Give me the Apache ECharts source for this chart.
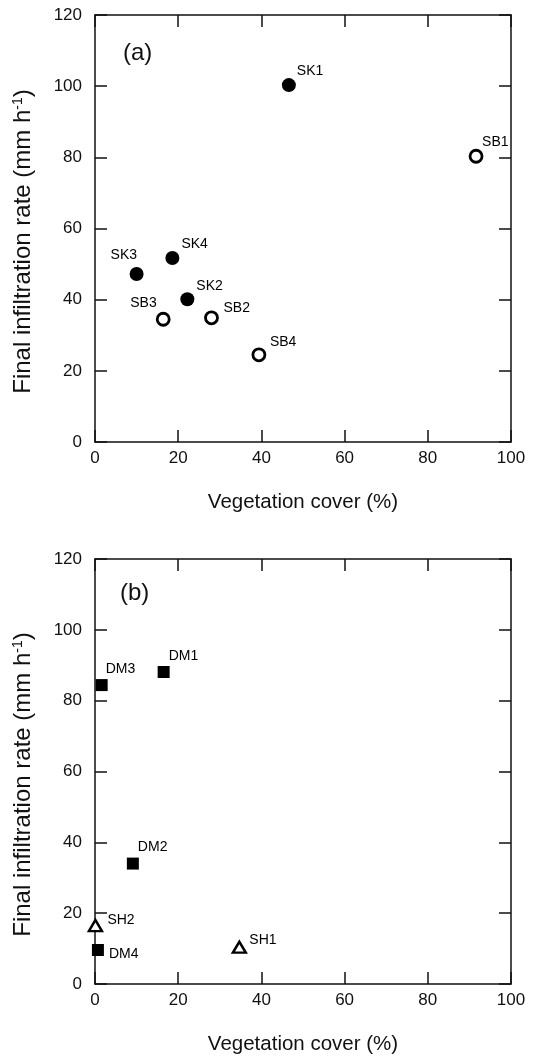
<!DOCTYPE html>
<html>
<head>
<meta charset="utf-8">
<script src="https://cdn.jsdelivr.net/npm/echarts@6/dist/echarts.min.js"></script>
<style>
  html, body { margin: 0; padding: 0; background: #fff; }
  #chart { width: 538px; height: 1057px; }
</style>
</head>
<body>
<div id="chart"></div>
<script>
// panel (a): sites with closed (SK) and open (SB) circles
var skNames = ['SK1', 'SK2', 'SK3', 'SK4'];
var skCover = [46.6, 22.2, 10.0, 18.6];
var skRate = [100.3, 40.1, 47.2, 51.7];

var sbNames = ['SB1', 'SB2', 'SB3', 'SB4'];
var sbCover = [91.6, 28.0, 16.4, 39.4];
var sbRate = [80.3, 34.9, 34.5, 24.5];

// panel (b): squares (DM) and open triangles (SH)
var dmNames = ['DM1', 'DM2', 'DM3', 'DM4'];
var dmCover = [16.5, 9.1, 1.6, 0.7];
var dmRate = [88.1, 34.0, 84.4, 9.6];

var shNames = ['SH1', 'SH2'];
var shCover = [34.7, 0.1];
var shRate = [10.4, 16.5];

var xTicks = [0, 20, 40, 60, 80, 100];
var yTicks = [0, 20, 40, 60, 80, 100, 120];

// label offsets (left edge / vertical centre relative to the marker)
var labelOffset = {
    SK1: [8, -14], SK2: [9, -13], SK3: [-26, -19], SK4: [9, -14],
    SB1: [6, -14], SB2: [12, -10], SB3: [-33, -16], SB4: [11, -13],
    DM1: [5, -16], DM2: [5, -16], DM3: [4, -16], DM4: [11, 4],
    SH1: [10, -7], SH2: [12, -5]
};

var font = 'Liberation Sans, Arial, Helvetica, sans-serif';

function points(names, xs, ys) {
    return names.map(function (n, i) {
        return {
            name: n,
            value: [xs[i], ys[i]],
            label: { offset: labelOffset[n] }
        };
    });
}

function pointLabel() {
    return {
        show: true,
        position: 'inside',
        align: 'left',
        verticalAlign: 'middle',
        formatter: '{b}',
        color: '#000',
        fontFamily: font,
        fontSize: 14
    };
}

var grids = [
    { left: 95, top: 15, width: 416, height: 427 },
    { left: 95, top: 559, width: 416, height: 425 }
];

function xAxes(gi) {
    var base = {
        gridIndex: gi, type: 'value', min: 0, max: 100, interval: 20,
        splitLine: { show: false },
        axisLine: { show: true, onZero: false, lineStyle: { color: '#111', width: 1.5 } },
        axisTick: { show: true, inside: true, length: 12, lineStyle: { color: '#111', width: 1.5 } }
    };
    return [
        Object.assign({}, base, {
            position: 'bottom',
            name: 'Vegetation cover (%)',
            nameLocation: 'middle',
            nameGap: 50,
            nameTextStyle: { fontFamily: font, fontSize: 20.5, color: '#111' },
            axisLabel: {
                margin: 8, fontFamily: font, fontSize: 17, color: '#111',
                formatter: function (v) { return xTicks.indexOf(v) >= 0 ? String(v) : ''; }
            }
        }),
        Object.assign({}, base, { position: 'top', axisLabel: { show: false } })
    ];
}

function yAxes(gi) {
    var base = {
        gridIndex: gi, type: 'value', min: 0, max: 120, interval: 20,
        splitLine: { show: false },
        axisLine: { show: true, onZero: false, lineStyle: { color: '#111', width: 1.5 } },
        axisTick: { show: true, inside: true, length: 12, lineStyle: { color: '#111', width: 1.5 } }
    };
    return [
        Object.assign({}, base, {
            position: 'left',
            name: 'Final infiltration rate (mm h{sup|-1})',
            nameLocation: 'middle',
            nameGap: 60,
            nameTextStyle: {
                fontFamily: font, fontSize: 24, color: '#111',
                padding: [0, 26, 0, 0],
                rich: { sup: { fontFamily: font, fontSize: 14, color: '#111', verticalAlign: 'top' } }
            },
            axisLabel: {
                margin: 13, fontFamily: font, fontSize: 17, color: '#111',
                formatter: function (v) { return yTicks.indexOf(v) >= 0 ? String(v) : ''; }
            }
        }),
        Object.assign({}, base, { position: 'right', axisLabel: { show: false } })
    ];
}

var myChart = echarts.init(document.getElementById('chart'), null, { renderer: 'canvas' });

var option = {
    backgroundColor: '#fff',
    animation: false,
    title: [
        { text: '(a)', left: 118, top: 36, textStyle: { fontFamily: font, fontSize: 24, fontWeight: 'normal', color: '#111' } },
        { text: '(b)', left: 115, top: 576, textStyle: { fontFamily: font, fontSize: 24, fontWeight: 'normal', color: '#111' } }
    ],
    grid: grids,
    xAxis: xAxes(0).concat(xAxes(1)),
    yAxis: yAxes(0).concat(yAxes(1)),
    series: [
        {
            name: 'SK', type: 'scatter', xAxisIndex: 0, yAxisIndex: 0,
            symbol: 'circle', symbolSize: 14,
            itemStyle: { color: '#000', opacity: 1 },
            label: pointLabel(),
            data: points(skNames, skCover, skRate)
        },
        {
            name: 'SB', type: 'scatter', xAxisIndex: 0, yAxisIndex: 0,
            symbol: 'circle', symbolSize: 12,
            itemStyle: { color: '#fff', borderColor: '#000', borderWidth: 2.8, opacity: 1 },
            label: pointLabel(),
            data: points(sbNames, sbCover, sbRate)
        },
        {
            name: 'DM', type: 'scatter', xAxisIndex: 2, yAxisIndex: 2,
            symbol: 'rect', symbolSize: 12,
            itemStyle: { color: '#000', opacity: 1 },
            label: pointLabel(),
            data: points(dmNames, dmCover, dmRate)
        },
        {
            name: 'SH', type: 'scatter', xAxisIndex: 2, yAxisIndex: 2,
            symbol: 'triangle', symbolSize: [13, 11],
            itemStyle: { color: '#fff', borderColor: '#000', borderWidth: 2.4, opacity: 1 },
            label: pointLabel(),
            data: points(shNames, shCover, shRate)
        }
    ]
};

myChart.setOption(option);
</script>
</body>
</html>
